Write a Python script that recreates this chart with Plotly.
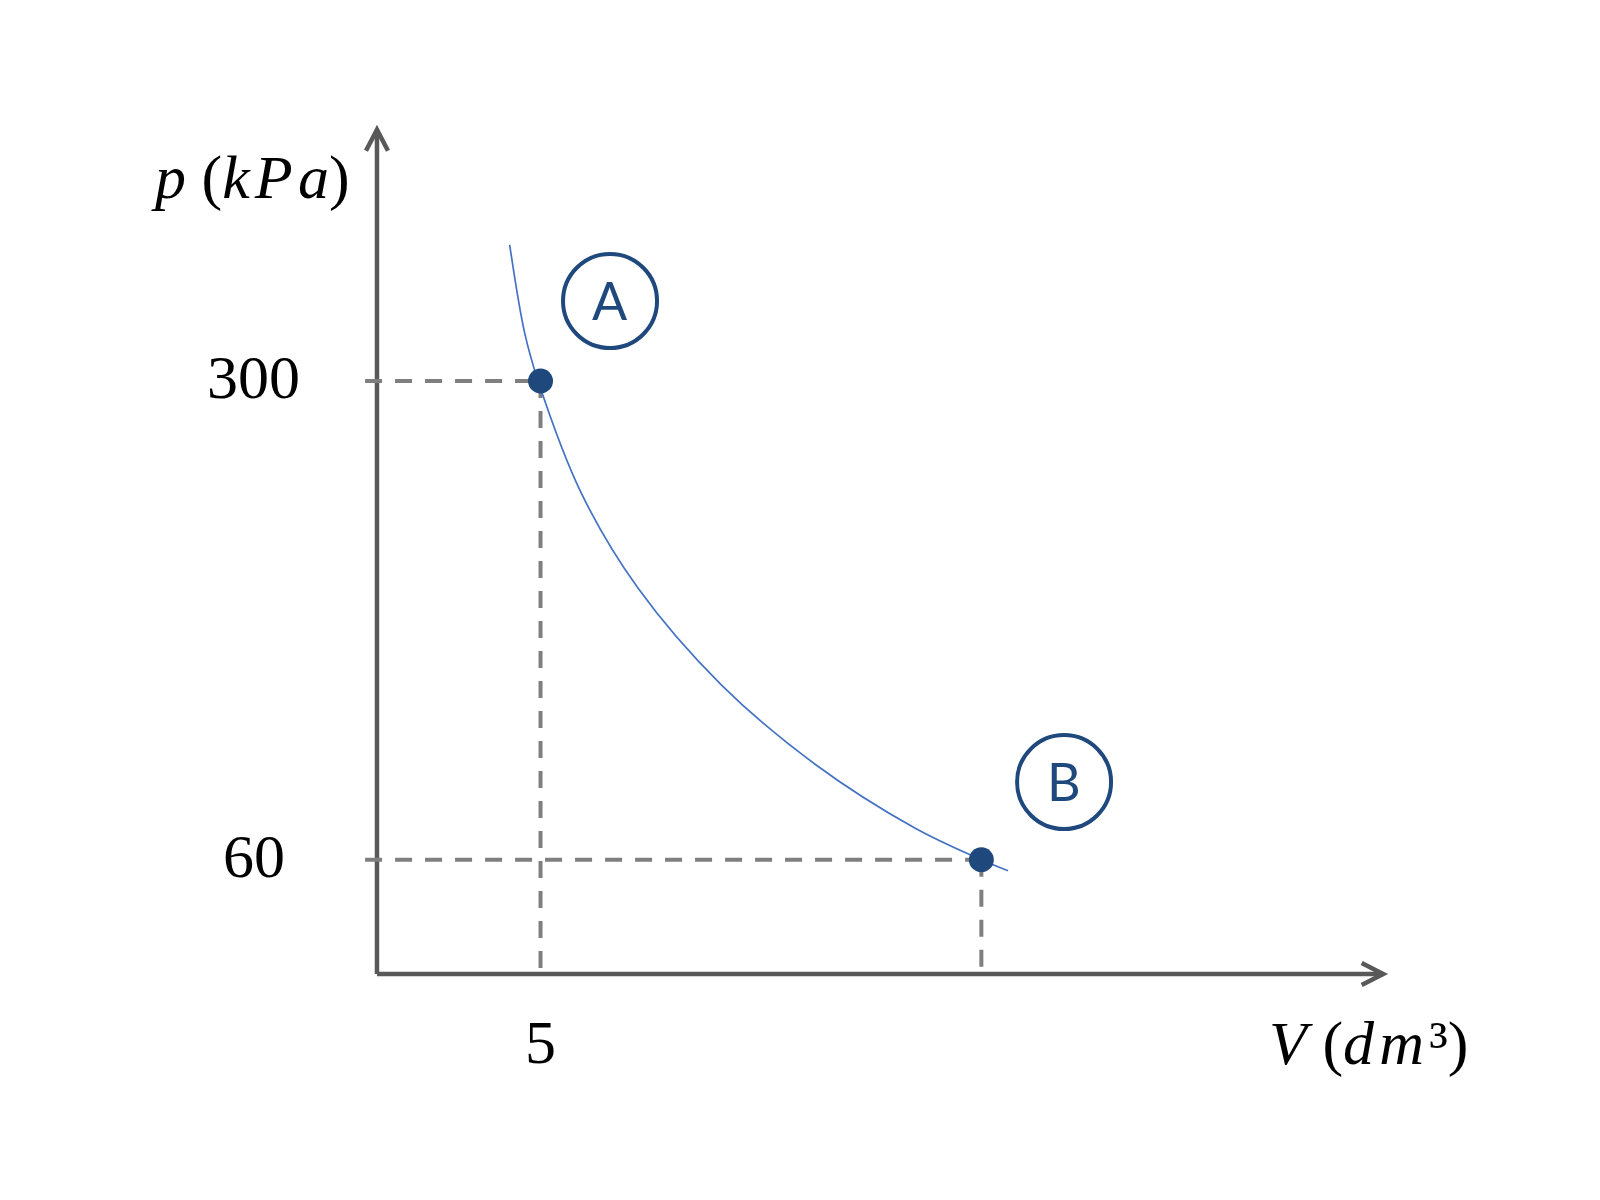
import plotly.graph_objects as go

# ---- data ----
state_labels = ["A", "B"]
state_V = [5, 25]          # dm^3
state_p = [300, 60]        # kPa

curve_V = [3.60, 4.28, 4.89, 6.85, 9.42, 13.20, 17.44, 21.98, 25.0, 26.21]
curve_p = [368.3, 324.1, 300.0, 243.8, 196.2, 147.7, 108.0, 75.9, 60.0, 54.5]

x_tick_vals = [5]
x_tick_text = ["5"]
y_tick_vals = [300, 60]
y_tick_text = ["300", "60"]

x_title = "<i>V</i> (<i>d\u200am\u200a</i>\u00b3)"
y_title = "<i>p</i> (<i>k\u200aP\u200aa</i>)"

# ---- layout constants (axis frame in data units) ----
X_RANGE = [-19.16, 53.43]
Y_RANGE = [-114.6, 487.0]
V_ORIGIN, P_ORIGIN = -2.42, 2.7
V_TIP, P_TIP = 43.23, 426.0
V_DASH_START, P_DASH_END = -2.96, 0.0

AXIS_COLOR = "#595959"
DASH_COLOR = "#7F7F7F"
DARK_BLUE = "#1F497D"
CURVE_COLOR = "#4472C4"
SERIF = "Liberation Serif"

fig = go.Figure()

# dashed guide lines
for V, p in zip(state_V, state_p):
    fig.add_trace(go.Scatter(x=[V_DASH_START, V], y=[p, p], mode="lines",
                             line=dict(color=DASH_COLOR, width=4, dash="17px,13px"),
                             hoverinfo="skip"))
    fig.add_trace(go.Scatter(x=[V, V], y=[p, P_DASH_END], mode="lines",
                             line=dict(color=DASH_COLOR, width=4, dash="17px,13px"),
                             hoverinfo="skip"))

# process curve
fig.add_trace(go.Scatter(x=curve_V, y=curve_p, mode="lines",
                         line=dict(color=CURVE_COLOR, width=1.7, shape="spline", smoothing=1.0),
                         hoverinfo="skip"))

# state points
fig.add_trace(go.Scatter(x=state_V, y=state_p, mode="markers",
                         marker=dict(color=DARK_BLUE, size=25),
                         hoverinfo="skip"))

shapes = []
# axis lines
shapes.append(dict(type="line", xref="x", yref="y", x0=V_ORIGIN, y0=P_ORIGIN, x1=V_TIP, y1=P_ORIGIN,
                   line=dict(color=AXIS_COLOR, width=4.5), layer="below"))
shapes.append(dict(type="line", xref="x", yref="y", x0=V_ORIGIN, y0=P_ORIGIN, x1=V_ORIGIN, y1=P_TIP,
                   line=dict(color=AXIS_COLOR, width=4.5), layer="below"))
# arrow heads (chevrons)
shapes.append(dict(type="path", xref="x", yref="y", xsizemode="pixel", ysizemode="pixel",
                   xanchor=V_TIP, yanchor=P_ORIGIN, path="M -21.5,11 L 0,0 L -21.5,-11",
                   line=dict(color=AXIS_COLOR, width=4.5), layer="below"))
shapes.append(dict(type="path", xref="x", yref="y", xsizemode="pixel", ysizemode="pixel",
                   xanchor=V_ORIGIN, yanchor=P_TIP, path="M -11,-21 L 0,0 L 11,-21",
                   line=dict(color=AXIS_COLOR, width=4.5), layer="below"))

# state label circles
label_offsets = [(69.5, 80), (82.7, 77.7)]
annotations = []
for lab, V, p, (dx, dy) in zip(state_labels, state_V, state_p, label_offsets):
    shapes.append(dict(type="circle", xref="x", yref="y", xsizemode="pixel", ysizemode="pixel",
                       xanchor=V, yanchor=p, x0=dx - 47, x1=dx + 47, y0=dy - 47, y1=dy + 47,
                       line=dict(color=DARK_BLUE, width=4), layer="above"))
    annotations.append(dict(x=V, y=p, xref="x", yref="y", text=lab, showarrow=False,
                            xshift=dx, yshift=dy + 1,
                            font=dict(family="Lato", size=52, color=DARK_BLUE)))

# tick labels
for val, txt in zip(y_tick_vals, y_tick_text):
    annotations.append(dict(x=V_ORIGIN, y=val, xref="x", yref="y", text=txt, showarrow=False,
                            xanchor="center", xshift=-123, yshift=4,
                            font=dict(family=SERIF, size=62, color="black")))
for val, txt in zip(x_tick_vals, x_tick_text):
    annotations.append(dict(x=val, y=P_ORIGIN, xref="x", yref="y", text=txt, showarrow=False,
                            yanchor="middle", yshift=-68,
                            font=dict(family=SERIF, size=62, color="black")))

# axis titles
annotations.append(dict(x=V_ORIGIN, y=P_TIP, xref="x", yref="y", text=y_title, showarrow=False,
                        xshift=-126, yshift=-48,
                        font=dict(family=SERIF, size=62, color="black")))
annotations.append(dict(x=V_TIP, y=P_ORIGIN, xref="x", yref="y", text=x_title, showarrow=False,
                        xshift=-15, yshift=-69,
                        font=dict(family=SERIF, size=62, color="black")))

fig.update_layout(
    width=1600, height=1200,
    margin=dict(l=0, r=0, t=0, b=0),
    paper_bgcolor="white", plot_bgcolor="white",
    showlegend=False,
    xaxis=dict(range=X_RANGE, visible=False, fixedrange=True),
    yaxis=dict(range=Y_RANGE, visible=False, fixedrange=True),
    shapes=shapes,
    annotations=annotations,
)

fig.write_html("out.html")
